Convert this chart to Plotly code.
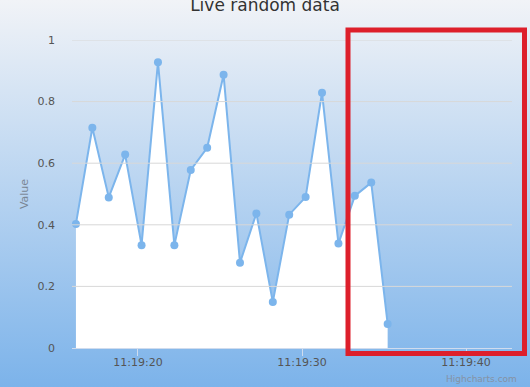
import base64
import plotly.graph_objects as go

# ---- data ----
times = [
    "2016-01-01 11:19:16.22", "2016-01-01 11:19:17.22", "2016-01-01 11:19:18.22",
    "2016-01-01 11:19:19.22", "2016-01-01 11:19:20.22", "2016-01-01 11:19:21.22",
    "2016-01-01 11:19:22.22", "2016-01-01 11:19:23.22", "2016-01-01 11:19:24.22",
    "2016-01-01 11:19:25.22", "2016-01-01 11:19:26.22", "2016-01-01 11:19:27.22",
    "2016-01-01 11:19:28.22", "2016-01-01 11:19:29.22", "2016-01-01 11:19:30.22",
    "2016-01-01 11:19:31.22", "2016-01-01 11:19:32.22", "2016-01-01 11:19:33.22",
    "2016-01-01 11:19:34.22", "2016-01-01 11:19:35.22",
]
values = [0.403, 0.715, 0.489, 0.628, 0.334, 0.928, 0.334, 0.578, 0.650, 0.887,
          0.277, 0.437, 0.149, 0.433, 0.490, 0.829, 0.339, 0.494, 0.537, 0.078]
x_range = ["2016-01-01 11:19:15.98", "2016-01-01 11:19:42.8"]
y_ticks = [0.2, 0.4, 0.6, 0.8, 1.0]
title_text = "Live random data"
y_title = "Value"
credit = "Highcharts.com"

W, H = 530, 387
L, R, T, B = 72, 18, 40, 39
PW, PH = W - L - R, H - T - B

svg = (
    '<svg xmlns="http://www.w3.org/2000/svg" width="530" height="387" preserveAspectRatio="none">'
    '<defs><linearGradient id="g" x1="0" y1="0" x2="0" y2="1">'
    '<stop offset="0" stop-color="#f1f3f7"/><stop offset="1" stop-color="#7cb3ea"/>'
    '</linearGradient></defs><rect width="530" height="387" fill="url(#g)"/></svg>'
)
src = "data:image/svg+xml;base64," + base64.b64encode(svg.encode()).decode()

fig = go.Figure()
fig.add_trace(go.Scatter(
    x=times, y=values, mode="lines+markers", fill="tozeroy",
    fillcolor="#ffffff",
    line=dict(color="#7cb5ec", width=2),
    marker=dict(color="#7cb5ec", size=8),
    showlegend=False, hoverinfo="x+y",
))

def px(x):
    return (x - L) / PW

def py(y):
    return (H - B - y) / PH

shapes = [dict(type="line", xref="paper", yref="y", x0=0, x1=1, y0=v, y1=v,
               line=dict(color="#d8d8d8", width=1), layer="above")
          for v in y_ticks]
shapes.append(dict(type="rect", xref="paper", yref="paper",
                   x0=px(348), x1=px(524.5), y0=py(353.5), y1=py(30),
                   line=dict(color="#dd1f2b", width=5), fillcolor="rgba(0,0,0,0)"))

fig.update_layout(
    width=W, height=H,
    margin=dict(l=L, r=R, t=T, b=B),
    paper_bgcolor="rgba(0,0,0,0)", plot_bgcolor="rgba(0,0,0,0)",
    title=dict(text=title_text, x=0.5, xanchor="center", xref="container",
               y=1 - 5 / H, yref="container", yanchor="middle",
               font=dict(family="DejaVu Sans", size=17, color="#333333")),
    font=dict(family="DejaVu Sans", size=11, color="#666666"),
    images=[dict(source=src, xref="paper", yref="paper", x=-L / PW, y=1 + T / PH,
                 sizex=W / PW, sizey=H / PH, xanchor="left", yanchor="top",
                 sizing="stretch", layer="below")],
    xaxis=dict(type="date", range=x_range, tickformat="%H:%M:%S",
               tick0="2016-01-01 11:19:20", dtick=10000,
               showgrid=False, showline=True, linecolor="#d0dcee", linewidth=1,
               ticks="outside", ticklen=7, tickcolor="#d0dcee",
               ticklabelstandoff=-3,
               tickfont=dict(size=11, color="#555555"), layer="above traces",
               fixedrange=True),
    yaxis=dict(range=[0, 1], tickvals=[0] + y_ticks, showgrid=False,
               zeroline=False, showline=False,
               ticks="", ticklabelstandoff=16,
               tickfont=dict(size=11, color="#555555"),
               title=dict(text=y_title, font=dict(size=11, color="#7a8694"), standoff=6),
               layer="above traces", fixedrange=True),
    annotations=[dict(text=credit, xref="paper", yref="paper",
                      x=px(519), y=py(379), xanchor="right", yanchor="middle",
                      showarrow=False, font=dict(size=9, color="#8592a4"))],
    shapes=shapes,
)

fig.write_html("out.html")
